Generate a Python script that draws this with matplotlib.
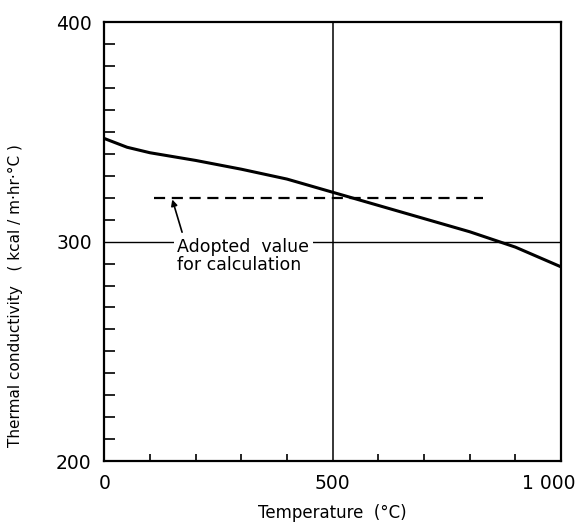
import numpy as np
import matplotlib
matplotlib.use("Agg")
from matplotlib import pyplot as plt
from matplotlib.ticker import MultipleLocator
from matplotlib.transforms import ScaledTranslation

# thermal conductivity
temperature = [0, 50, 100, 200, 300, 400, 500, 600, 700, 800, 900, 1000]
conductivity = [347, 343, 340.5, 337, 333, 328.5, 322.5, 316.5, 310.5, 304.5, 297.5, 288.5]

# adopted design value and its span
adopted_value = 320
adopted_span = [110, 830]

x_ticks = [0, 500, 1000]
x_tick_labels = ["0", "500", "1 000"]
y_ticks = [200, 300, 400]
y_tick_labels = ["200", "300", "400"]

plt.rcParams['font.family'] = ['DejaVu Sans']

fig = plt.figure(figsize=(5.79, 5.27), dpi=100)
ax = fig.add_axes([0.18, 0.125, 0.789, 0.833])

ax.plot(temperature, conductivity, color='black', lw=2.2, solid_capstyle='butt',
        solid_joinstyle='round', zorder=4)
ax.plot(adopted_span, [adopted_value, adopted_value], color='black', lw=1.6,
        linestyle=(0, (5, 3)), zorder=4)

# reference lines through the middle of the grid
ax.axvline(500, color='black', lw=1.1, zorder=1)
ax.axhline(300, color='black', lw=1.0, zorder=1)

ax.annotate("Adopted  value\nfor calculation",
            xy=(149, adopted_value - 0.8), xytext=(160, 301.5),
            fontsize=12.5, ha='left', va='top', linespacing=1.0,
            bbox=dict(boxstyle='square,pad=0.2', fc='white', ec='none'),
            arrowprops=dict(arrowstyle='-|>', color='black', lw=1.2,
                            mutation_scale=9, shrinkA=2, shrinkB=0,
                            relpos=(0.05, 1.0)),
            zorder=3)

ax.set_xlim(0, 1000)
ax.set_ylim(200, 400)
ax.set_xticks(x_ticks)
ax.set_xticklabels(x_tick_labels)
ax.set_yticks(y_ticks)
ax.set_yticklabels(y_tick_labels)
ax.xaxis.set_minor_locator(MultipleLocator(100))
ax.yaxis.set_minor_locator(MultipleLocator(10))
ax.tick_params(which='major', length=0, labelsize=13.5, pad=9)
ax.tick_params(axis='x', which='minor', direction='in', length=5, width=1.2)
ax.tick_params(axis='y', which='minor', direction='in', length=8, width=1.2)

# pull the last x label back inside the figure
last = ax.get_xticklabels()[-1]
last.set_transform(last.get_transform() + ScaledTranslation(-12 / 100, 0, fig.dpi_scale_trans))

for s in ax.spines.values():
    s.set_linewidth(1.6)

ax.set_xlabel("Temperature  (°C)", fontsize=12, labelpad=8)
ax.set_ylabel("Thermal conductivity   ( kcal / m·hr·°C )", fontsize=11)
ax.yaxis.set_label_coords(-0.178, 0.378)

fig.savefig("out.png", dpi=100, facecolor='white')
